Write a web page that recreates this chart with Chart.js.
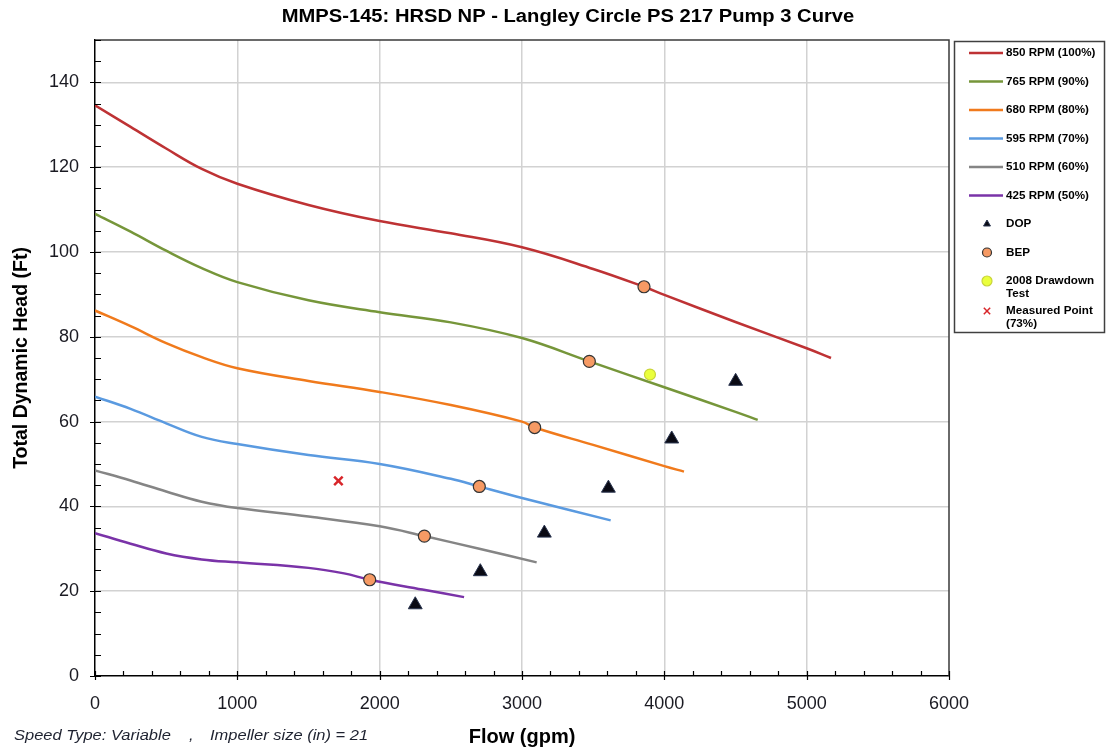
<!DOCTYPE html>
<html>
<head>
<meta charset="utf-8">
<title>Langley Circle PS 217 Pump 3 Curve</title>
<script src="https://cdn.jsdelivr.net/npm/chart.js@4.4.1/dist/chart.umd.min.js"></script>
<style>
  html, body { margin: 0; padding: 0; background: #fff; }
  #wrap { width: 1108px; height: 753px; }
</style>
</head>
<body>
<div id="wrap"><canvas id="pumpChart" width="1108" height="753"></canvas></div>
<script>
const FONT = "'Liberation Sans', Arial, sans-serif";

// pump curves: flow (gpm) / total dynamic head (ft)
const rpm850Flow = [0, 250, 500, 750, 1000, 1500, 2000, 2500, 3000, 3500, 3857, 4000, 4500, 5000, 5171];
const rpm850Head = [134.6, 129.5, 124.4, 119.6, 116.1, 111.1, 107.3, 104.4, 101.1, 96.0, 91.8, 89.9, 83.5, 77.3, 75.0];

const rpm765Flow = [0, 250, 500, 750, 1000, 1500, 2000, 2500, 3000, 3473, 4000, 4500, 4656];
const rpm765Head = [109.0, 104.8, 100.3, 96.2, 92.9, 88.6, 85.8, 83.4, 79.7, 74.2, 68.1, 62.3, 60.4];

const rpm680Flow = [0, 250, 500, 750, 1000, 1500, 2000, 2500, 3000, 3089, 3500, 4000, 4138];
const rpm680Head = [86.2, 82.5, 78.5, 75.2, 72.6, 69.6, 67.0, 63.9, 60.0, 58.6, 54.5, 49.5, 48.2];

const rpm595Flow = [0, 250, 500, 750, 1000, 1500, 2000, 2500, 2700, 3000, 3623];
const rpm595Head = [65.9, 63.0, 59.6, 56.4, 54.7, 52.1, 50.0, 46.5, 44.7, 42.0, 36.7];

const rpm510Flow = [0, 250, 500, 750, 1000, 1500, 2000, 2314, 2700, 3103];
const rpm510Head = [48.5, 46.1, 43.5, 41.1, 39.6, 37.6, 35.3, 33.0, 30.0, 26.8];

const rpm425Flow = [0, 250, 500, 750, 1000, 1500, 1750, 1930, 2300, 2593];
const rpm425Head = [33.7, 31.2, 28.9, 27.5, 26.8, 25.5, 24.2, 22.7, 20.4, 18.6];

const dopFlow = [2250, 2707, 3157, 3607, 4052, 4501];
const dopHead = [16.8, 24.6, 33.7, 44.3, 55.9, 69.5];

const bepFlow = [3857, 3473, 3089, 2700, 2314, 1930];
const bepHead = [91.8, 74.2, 58.6, 44.7, 33.0, 22.7];

const drawdownFlow = [3899];
const drawdownHead = [71.1];

const measuredFlow = [1710];
const measuredHead = [46.0];

const curveNames = ['850 RPM (100%)', '765 RPM (90%)', '680 RPM (80%)', '595 RPM (70%)', '510 RPM (60%)', '425 RPM (50%)'];
const curveColors = ['#be3234', '#76963a', '#f07a1c', '#5a9ae0', '#858585', '#7a33a8'];

const xMajorTicks = [0, 1000, 2000, 3000, 4000, 5000, 6000];
const yMajorTicks = [0, 20, 40, 60, 80, 100, 120, 140];

function pairs(xs, ys) {
    return xs.map((x, i) => ({ x: x, y: ys[i] }));
}

const curveData = [
    pairs(rpm850Flow, rpm850Head),
    pairs(rpm765Flow, rpm765Head),
    pairs(rpm680Flow, rpm680Head),
    pairs(rpm595Flow, rpm595Head),
    pairs(rpm510Flow, rpm510Head),
    pairs(rpm425Flow, rpm425Head)
];

const datasets = curveData.map((d, i) => ({
    label: curveNames[i],
    data: d,
    showLine: true,
    borderColor: curveColors[i],
    backgroundColor: curveColors[i],
    borderWidth: 2.5,
    pointRadius: 0,
    tension: 0.4,
    order: 2,
    legendKind: 'line'
}));

datasets.push({
    label: 'DOP',
    data: pairs(dopFlow, dopHead),
    pointStyle: 'triangle',
    pointRadius: 8,
    backgroundColor: '#0a0a14',
    borderColor: '#2a3550',
    borderWidth: 1,
    order: 1,
    legendKind: 'point',
    legendRadius: 4
});
datasets.push({
    label: 'BEP',
    data: pairs(bepFlow, bepHead),
    pointStyle: 'circle',
    pointRadius: 6,
    backgroundColor: '#f69a64',
    borderColor: '#333333',
    borderWidth: 1.2,
    order: 0,
    legendKind: 'point',
    legendRadius: 4.5
});
datasets.push({
    label: '2008 Drawdown\nTest',
    data: pairs(drawdownFlow, drawdownHead),
    pointStyle: 'circle',
    pointRadius: 5.5,
    backgroundColor: '#eaff3c',
    borderColor: '#c9d43a',
    borderWidth: 1.2,
    order: 0,
    legendKind: 'point',
    legendRadius: 5
});
datasets.push({
    label: 'Measured Point\n(73%)',
    data: pairs(measuredFlow, measuredHead),
    pointStyle: 'crossRot',
    pointRadius: 6,
    backgroundColor: '#d8262a',
    borderColor: '#d8262a',
    borderWidth: 2.5,
    order: 0,
    legendKind: 'point',
    legendRadius: 4.5,
    legendBorderWidth: 1.5
});

// stretched text, the reference renders its type a little wide
function wideText(ctx, text, x, y, stretch) {
    ctx.save();
    ctx.translate(x, y);
    ctx.scale(stretch, 1);
    ctx.fillText(text, 0, 0);
    ctx.restore();
}

// frame, inner ticks, title, footnote and the boxed legend
const decorPlugin = {
    id: 'decor',
    afterDraw(chart) {
        const ctx = chart.ctx;
        const area = chart.chartArea;
        const xs = chart.scales.x;
        const ys = chart.scales.y;
        ctx.save();

        // top and right frame
        ctx.strokeStyle = '#3a3a3a';
        ctx.lineWidth = 1.5;
        ctx.beginPath();
        ctx.moveTo(area.left, area.top);
        ctx.lineTo(area.right, area.top);
        ctx.lineTo(area.right, area.bottom);
        ctx.stroke();

        // ticks: minor ones point into the plot, majors cross the axis
        ctx.strokeStyle = '#000';
        ctx.lineWidth = 1.2;
        ctx.beginPath();
        xs.ticks.forEach(t => {
            const px = Math.round(xs.getPixelForValue(t.value)) + 0.5;
            const major = xMajorTicks.includes(t.value);
            ctx.moveTo(px, area.bottom - 5);
            ctx.lineTo(px, area.bottom + (major ? 4 : 0));
        });
        ys.ticks.forEach(t => {
            const py = Math.round(ys.getPixelForValue(t.value)) + 0.5;
            const major = yMajorTicks.includes(t.value);
            ctx.moveTo(area.left - (major ? 5 : 0), py);
            ctx.lineTo(area.left + 6, py);
        });
        ctx.stroke();

        // title
        ctx.fillStyle = '#000';
        ctx.font = 'bold 18px ' + FONT;
        ctx.textAlign = 'center';
        ctx.textBaseline = 'middle';
        wideText(ctx, 'MMPS-145: HRSD NP - Langley Circle PS 217 Pump 3 Curve', 568, 17, 1.12);

        // footnote
        ctx.fillStyle = '#1e2230';
        ctx.font = 'italic 15px ' + FONT;
        ctx.textAlign = 'left';
        wideText(ctx, 'Speed Type: Variable', 14, 736, 1.1);
        wideText(ctx, ',', 189, 736, 1.1);
        wideText(ctx, 'Impeller size (in) = 21', 210, 736, 1.1);

        // legend box
        ctx.strokeStyle = '#404040';
        ctx.lineWidth = 1.5;
        ctx.strokeRect(954.5, 41.5, 150, 291);

        let y = 53;
        ctx.font = 'bold 11px ' + FONT;
        chart.data.datasets.forEach(ds => {
            const lines = ds.label.split('\n');
            if (ds.legendKind === 'line') {
                ctx.strokeStyle = ds.borderColor;
                ctx.lineWidth = 2.5;
                ctx.beginPath();
                ctx.moveTo(969, y);
                ctx.lineTo(1003, y);
                ctx.stroke();
            } else {
                ctx.fillStyle = ds.backgroundColor;
                ctx.strokeStyle = ds.borderColor;
                ctx.lineWidth = ds.legendBorderWidth || ds.borderWidth;
                Chart.helpers.drawPoint(ctx, {
                    pointStyle: ds.pointStyle,
                    radius: ds.legendRadius,
                    rotation: 0,
                    borderWidth: ds.legendBorderWidth || ds.borderWidth
                }, 987, y);
            }
            ctx.fillStyle = '#000';
            lines.forEach((ln, k) => wideText(ctx, ln, 1006, y + k * 13, 1.06));
            y += 28.5 + (lines.length - 1) * 1.5;
        });

        ctx.restore();
    }
};

new Chart(document.getElementById('pumpChart'), {
    type: 'scatter',
    data: { datasets: datasets },
    options: {
        responsive: false,
        animation: false,
        layout: { padding: { top: 40, right: 159, left: 0, bottom: 0 } },
        plugins: {
            legend: { display: false },
            title: { display: false },
            tooltip: { enabled: false }
        },
        scales: {
            x: {
                type: 'linear',
                min: 0,
                max: 6000,
                afterFit(scale) { scale.height = 77; },
                ticks: {
                    stepSize: 200,
                    autoSkip: false,
                    maxRotation: 0,
                    padding: 17,
                    color: '#1a1a22',
                    font: { family: FONT, size: 18 },
                    callback: v => xMajorTicks.includes(v) ? String(v) : ''
                },
                grid: {
                    drawTicks: false,
                    lineWidth: 1.5,
                    color: c => (c.tick && xMajorTicks.includes(c.tick.value) && c.tick.value > 0 && c.tick.value < 6000) ? '#d2d2d2' : 'rgba(0,0,0,0)'
                },
                border: { color: '#000', width: 1.5 },
                title: {
                    display: true,
                    text: 'Flow (gpm)',
                    color: '#000',
                    font: { family: FONT, size: 20, weight: 'bold' },
                    padding: { top: 0, bottom: 4 }
                }
            },
            y: {
                type: 'linear',
                min: 0,
                max: 150,
                afterFit(scale) { scale.width = 95; },
                ticks: {
                    stepSize: 5,
                    autoSkip: false,
                    padding: 16,
                    color: '#1a1a22',
                    font: { family: FONT, size: 18 },
                    callback: v => yMajorTicks.includes(v) ? String(v) : ''
                },
                grid: {
                    drawTicks: false,
                    lineWidth: 1.5,
                    color: c => (c.tick && yMajorTicks.includes(c.tick.value) && c.tick.value > 0) ? '#d2d2d2' : 'rgba(0,0,0,0)'
                },
                border: { color: '#000', width: 1.5 },
                title: {
                    display: true,
                    text: 'Total Dynamic Head (Ft)',
                    color: '#000',
                    font: { family: FONT, size: 19.5, weight: 'bold' },
                    padding: { top: 10, bottom: 0 }
                }
            }
        }
    },
    plugins: [decorPlugin]
});
</script>
</body>
</html>
